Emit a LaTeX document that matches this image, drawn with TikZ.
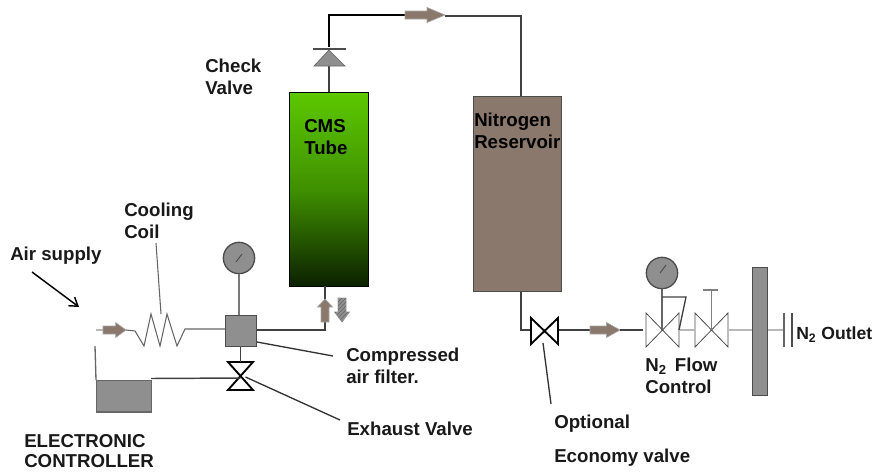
\documentclass[tikz,border=0pt]{standalone}
\usepackage{fontspec}
\setmainfont{Liberation Sans}
\usetikzlibrary{patterns,arrows.meta}
\definecolor{pipe}{HTML}{404040}
\definecolor{lightpipe}{HTML}{B8B8B8}
\definecolor{flowbrown}{HTML}{8B786D}
\definecolor{unitgray}{HTML}{8F8F8F}
\definecolor{tubetop}{HTML}{5CC800}
\definecolor{tubemid}{HTML}{3F9000}
\definecolor{tubebot}{HTML}{0C2000}
\tikzset{
 px/.style={x=0.75pt,y=-0.75pt},
 lbl/.style={font=\bfseries\fontsize{14}{16.5}\selectfont,anchor=north west,inner sep=0pt,align=left,text=black!90},
 pipeline/.style={draw=pipe,line width=1.1pt},
 thinpipe/.style={draw=lightpipe,line width=1.1pt},
 leader/.style={draw=black!80,line width=1pt},
 unit/.style={draw=black!70,fill=unitgray,line width=1pt},
 bow/.style={draw=black,fill=white,line width=1.4pt,line join=miter},
 bowthin/.style={draw=black!70,fill=white,line width=.6pt},
 flow/.style={draw=black!35,fill=flowbrown,line width=.5pt}
}
\newcommand{\flowright}[3]{\path[flow] (#1,#3-4) -- ++(#2*.55,0) -- ++(0,-3.5) -- (#1+#2,#3) -- (#1+#2*.55,#3+7.5) -- ++(0,-3.5) -- (#1,#3+4) -- cycle;}
\begin{document}
\begin{tikzpicture}[px]
\useasboundingbox (0,0) rectangle (875,472);
% tube
\node[draw=black,line width=.8pt,minimum width=59.25pt,minimum height=145.5pt,inner sep=0pt,anchor=north west,
 top color=tubetop,bottom color=tubebot,middle color=tubemid] (tube) at (289,92) {};
\node[lbl,anchor=north west,text=black] (tubetxt) at (304,119) {CMS\\Tube};
% reservoir
\node[draw=black!70,fill=flowbrown,line width=.8pt,minimum width=66pt,minimum height=146pt,inner sep=0pt,anchor=north west] (res) at (473,96) {};
\node[lbl,text=black] (restxt) at (474,113) {Nitrogen\\Reservoir};
% top pipe
\coordinate (cv) at (329,66);
\draw[pipeline] (tube.north -| cv) -- (cv);
\path[fill=unitgray,draw=black!60,line width=.5pt] (314,66) -- (345,66) -- (329,50) -- cycle;
\draw[draw=black!70,line width=1pt] (313,49) -- (346,49);
\coordinate (tr) at (521,16);
\draw[draw=black,line width=1.4pt] (329,47) -- (329,15) -- (405,15);
\draw[pipeline] (445,16) -- (tr) -- (res.north -| tr);
\flowright{405}{40}{15}
% gauge 1
\node[circle,unit,minimum size=23.5pt,inner sep=0pt] (g1) at (239,258) {};
\draw[black!70,line width=.7pt] (236,262) -- (242,254);
\node[unit,rectangle,minimum size=23pt,inner sep=0pt,anchor=north west] (filter) at (225,315) {};
\draw[draw=pipe!70,line width=1.1pt] (g1.south) -- (filter.north -| g1);
% exhaust valve
\path[bow] (228,362) -- (253,362) -- (228,390) -- (253,390) -- cycle;
\coordinate (ev) at (240.5,378);
\draw[pipeline] (filter.south -| ev) -- (240.5,362);
% controller
\node[unit,rectangle,draw=black!60,minimum width=41pt,minimum height=23.5pt,inner sep=0pt,anchor=north west] (ctrl) at (96,380) {};
\draw[pipeline] (151,378.5) -- (ev);
\draw[draw=pipe!80,line width=1pt] (95,346) -- (96,380);
% air line
\draw[thinpipe] (96,330) -- (103,330);
\flowright{103}{23}{330}
\draw[draw=black!60,line width=.8pt] (126,330) -- (135,331) -- (144,346) -- (151,314) -- (160,346) -- (167,314) -- (177,346) -- (185,329) -- (filter.west |- 0,329);
\draw[pipeline] (filter.east |- 0,330) -- (325,330) -- (325,286);
% up and down arrows
\path[flow] (321,322) -- (321,307) -- (317.5,307) -- (325,299) -- (332.5,307) -- (329,307) -- (329,322) -- cycle;
\path[fill=unitgray,draw=black!40,line width=.5pt,postaction={pattern=north east lines,pattern color=black!60}] (338,298) -- (346,298) -- (346,312) -- (349.5,312) -- (342,322) -- (334.5,312) -- (338,312) -- cycle;
% leaders
\coordinate (a1) at (156,243); \coordinate (a2) at (161,314);
\draw[draw=black!60,line width=.8pt] (a1) -- (a2);
\coordinate (a3) at (333,356); \coordinate (a4) at (340,420);
\draw[leader] (filter.south east) ++(0,-5) -- (a3);
\draw[leader] (ev) ++(5,-1) -- (a4);
\coordinate (s1) at (32,272); \coordinate (s2) at (79,307);
\draw[draw=black,line width=1.1pt,-{Straight Barb[length=6pt,width=8pt]}] (s1) -- (s2);
% right part
\coordinate (r1) at (521,330);
\draw[pipeline] (res.south -| r1) -- (r1) -- (531,330);
\path[bow] (531,318) -- (558,344) -- (558,318) -- (531,344) -- cycle;
\draw[pipeline] (559,330) -- (590,330);
\flowright{590}{30}{330}
\draw[pipeline] (620,330) -- (643,330);
\path[bowthin] (646,313) -- (679,347) -- (679,313) -- (646,347) -- cycle;
\path[bowthin] (695,313) -- (728,347) -- (728,313) -- (695,347) -- cycle;
\node[circle,unit,minimum size=23.5pt,inner sep=0pt] (g2) at (662,273) {};
\draw[black!70,line width=.7pt] (660,273) -- (666,265);
\draw[draw=pipe!80,line width=1pt] (g2.south) -- (662,330);
\draw[draw=pipe,line width=1pt] (662,297) -- (686,297) -- (679,330);
\draw[draw=black!50,line width=.7pt] (711,330) -- (711,290);
\draw[draw=black!50,line width=1pt] (703,290) -- (718,290);
\node[unit,rectangle,draw=black!70,minimum width=11pt,minimum height=96pt,inner sep=0pt,anchor=north west] (bar) at (752,267) {};
\draw[thinpipe] (680,330) -- (695,330);
\draw[thinpipe] (729,330) -- (bar.west |- 0,330);
\draw[thinpipe] (bar.east |- 0,330) -- (783,330);
\draw[draw=black!60,line width=.8pt] (784,313) -- (784,347);
\draw[draw=black!70,line width=1pt] (792,313) -- (792,347);
\coordinate (e1) at (543,343); \coordinate (e2) at (551,404);
\draw[leader] (e1) -- (e2);
% labels
\node[lbl] (t1) at (205,59) {Check\\Valve};
\node[lbl] (t2) at (124,203) {Cooling\\Coil};
\node[lbl] (t3) at (10,247) {Air supply};
\node[lbl] (t4) at (346,348) {Compressed\\air filter.};
\node[lbl] (t5) at (347,422) {Exhaust Valve};
\node[lbl,font=\bfseries\fontsize{14}{15.5}\selectfont] (t6) at (24,434) {ELECTRONIC\\CONTROLLER};
\node[lbl] (t7) at (645,358) {N\textsubscript{2}\, Flow\\Control};
\node[lbl,font=\bfseries\fontsize{13.2}{16}\selectfont] (t8) at (796,326) {N\textsubscript{2} Outlet};
\node[lbl] (t9) at (554,415) {Optional};
\node[lbl] (t10) at (554,449) {Economy valve};
\end{tikzpicture}
\end{document}
